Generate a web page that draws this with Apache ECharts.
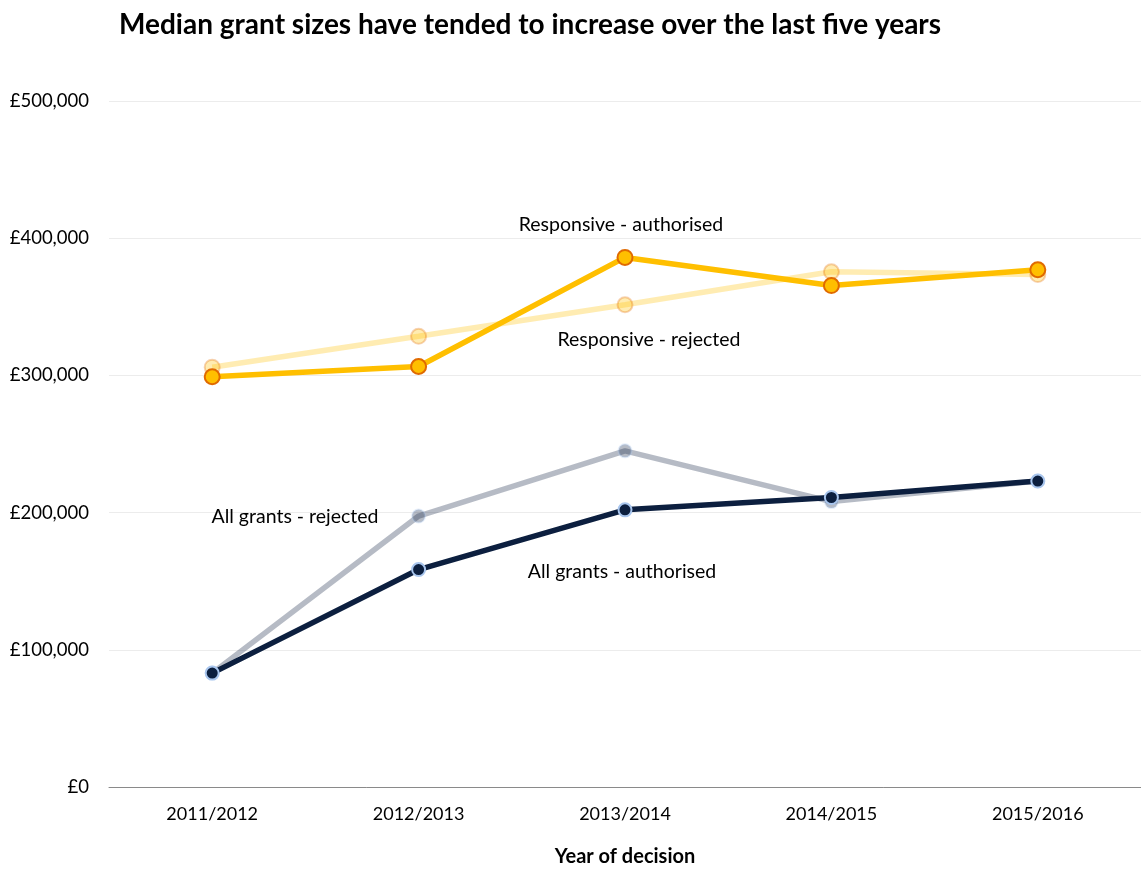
<!DOCTYPE html>
<html>
<head>
<meta charset="utf-8">
<script src="https://cdn.jsdelivr.net/npm/echarts@6/dist/echarts.min.js"></script>
<style>
  html, body { margin: 0; padding: 0; background: #fff; }
  #chart { width: 1141px; height: 872px; }
</style>
</head>
<body>
<div id="chart"></div>
<script>
// Median grant size by year of decision (GBP)
const years = ['2011/2012', '2012/2013', '2013/2014', '2014/2015', '2015/2016'];
const responsiveRejected = [306000, 328500, 351500, 375500, 373500];
const responsiveAuthorised = [299000, 306500, 386000, 365500, 377000];
const allRejected = [83000, 197500, 245000, 208000, 223000];
const allAuthorised = [83000, 158500, 202000, 211000, 223000];

const FONT = 'Lato, "Noto Sans", sans-serif';
const ORANGE = '#FFBF00', ORANGE_EDGE = '#E06A00';
const NAVY = '#0C1F3F', NAVY_EDGE = '#A9C6EE';

function lineSeries(name, data, color, edge, faded, size) {
  const op = faded ? 0.3 : 1;
  return {
    name, type: 'line', data,
    symbol: 'circle', symbolSize: size,
    z: faded ? 2 : 3,
    lineStyle: { color, width: 5.5, opacity: op },
    itemStyle: { color, borderColor: edge, borderWidth: 2, opacity: op },
    emphasis: { disabled: true },
    animation: false
  };
}

const chart = echarts.init(document.getElementById('chart'));
chart.setOption({
  animation: false,
  textStyle: { fontFamily: FONT },
  title: {
    text: 'Median grant sizes have tended to increase over the last five years',
    left: 114, top: 6,
    textStyle: { fontFamily: FONT, fontSize: 28, fontWeight: 'bold', color: '#000' }
  },
  grid: { left: 109, width: 1040, top: 101, bottom: 82, containLabel: false },
  xAxis: {
    type: 'category', data: years, boundaryGap: true,
    name: 'Year of decision', nameLocation: 'middle', nameGap: 60,
    nameTextStyle: { fontFamily: FONT, fontSize: 20, fontWeight: 'bold', color: '#000' },
    axisLine: { lineStyle: { color: '#8a8a8a', width: 1 } },
    axisTick: { show: false },
    axisLabel: { fontFamily: FONT, fontSize: 18, color: '#000', margin: 18 }
  },
  yAxis: {
    type: 'value', min: 0, max: 500000, interval: 100000,
    axisLine: { show: false }, axisTick: { show: false },
    splitLine: { lineStyle: { color: '#ececec', width: 1 } },
    axisLabel: {
      fontFamily: FONT, fontSize: 18.5, color: '#000', margin: 20,
      formatter: v => '£' + v.toLocaleString('en-GB')
    }
  },
  series: [
    lineSeries('Responsive - rejected', responsiveRejected, ORANGE, ORANGE_EDGE, true, 15),
    lineSeries('All grants - rejected', allRejected, NAVY, NAVY_EDGE, true, 13),
    lineSeries('Responsive - authorised', responsiveAuthorised, ORANGE, ORANGE_EDGE, false, 15),
    lineSeries('All grants - authorised', allAuthorised, NAVY, NAVY_EDGE, false, 13)
  ],
  graphic: [
    { text: 'Responsive - authorised', x: 621, y: 225 },
    { text: 'Responsive - rejected', x: 649, y: 340 },
    { text: 'All grants - rejected', x: 295, y: 517 },
    { text: 'All grants - authorised', x: 622, y: 572 }
  ].map(t => ({
    type: 'text', x: t.x, y: t.y, z: 10,
    style: {
      text: t.text, fill: '#000', font: '19.5px ' + FONT,
      textAlign: 'center', textVerticalAlign: 'middle'
    }
  }))
});
</script>
</body>
</html>
